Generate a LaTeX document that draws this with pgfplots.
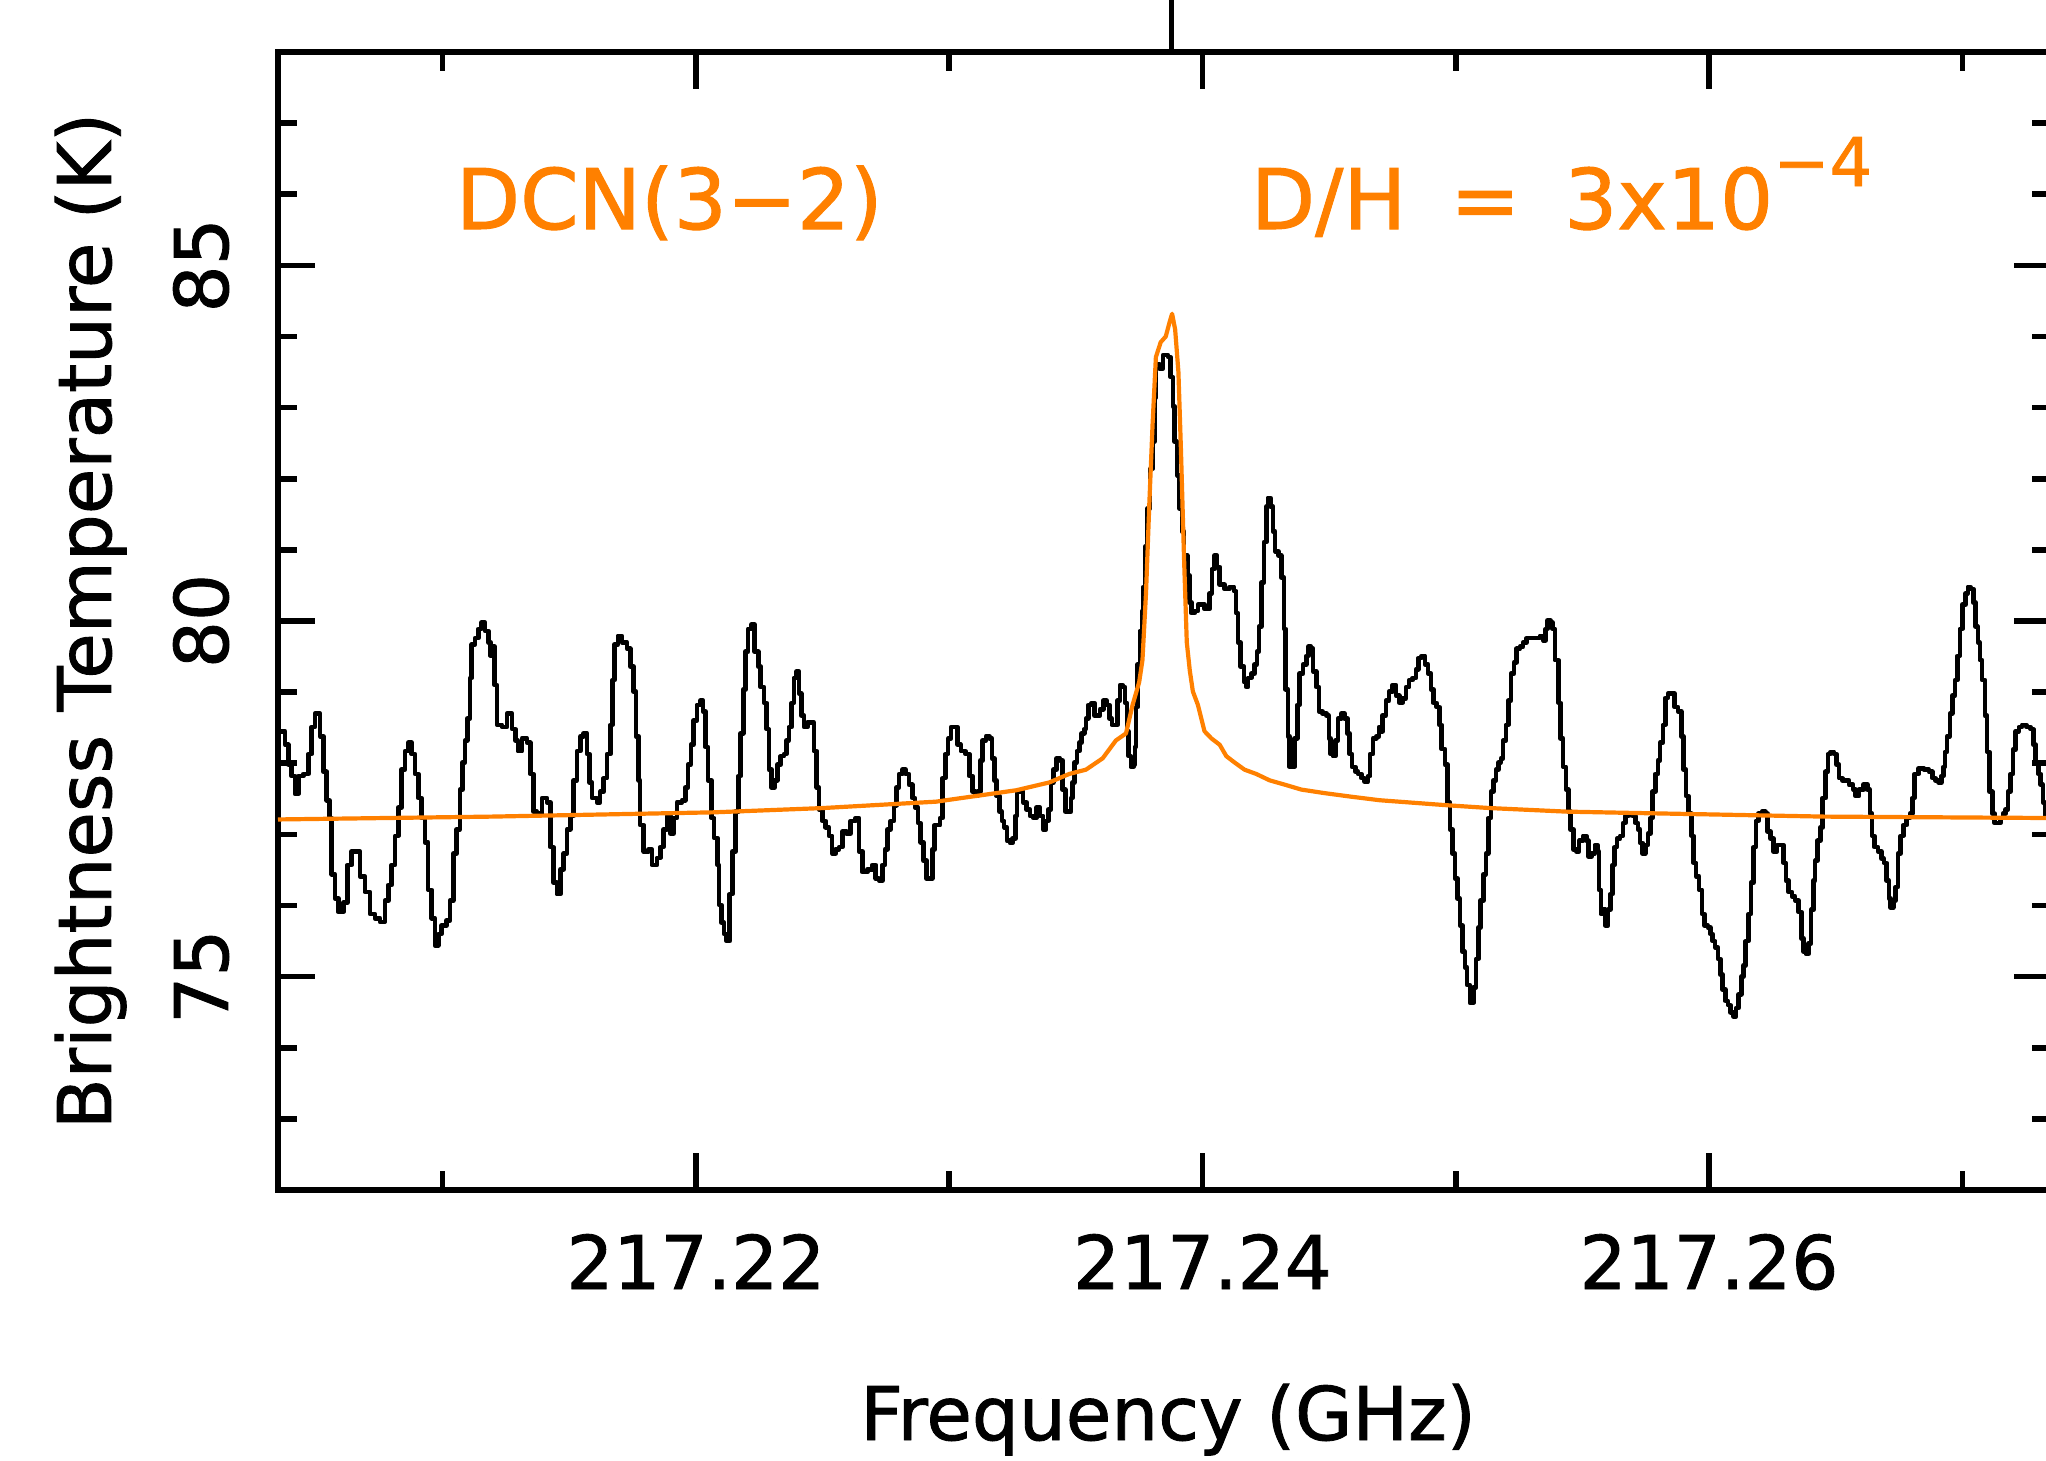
\documentclass[border=0pt]{standalone}
\usepackage{fontspec}
\setmainfont{DejaVu Sans}[FakeBold=1.2]
\usepackage{pgfplots}
\usepackage{pgfplotstable}
\pgfplotsset{compat=1.18}
\definecolor{modelorange}{RGB}{255,128,0}

% x: offset from 217.2 GHz in MHz, y: brightness temperature (K)
\pgfplotstableread{
x T
3.50 78.45
3.78 78.26
3.91 77.98
4.04 77.82
4.17 77.57
4.30 77.82
4.50 77.85
4.70 78.13
4.83 78.51
4.96 78.70
5.16 78.38
5.29 77.88
5.42 77.48
5.53 77.23
5.62 76.44
5.75 76.10
5.88 75.91
6.08 76.04
6.24 76.57
6.41 76.76
6.61 76.76
6.74 76.41
6.93 76.19
7.13 75.88
7.33 75.82
7.53 75.77
7.72 76.07
7.86 76.29
7.99 76.57
8.12 76.98
8.25 77.38
8.38 77.91
8.51 78.17
8.65 78.29
8.78 78.13
8.91 77.85
9.04 77.51
9.17 77.23
9.30 76.89
9.43 76.22
9.57 75.82
9.70 75.44
9.83 75.60
9.96 75.72
10.16 75.79
10.29 76.07
10.42 76.73
10.55 77.07
10.68 77.63
10.79 78.01
10.88 78.32
10.97 78.63
11.08 79.20
11.15 79.67
11.28 79.76
11.41 79.89
11.54 79.98
11.67 79.86
11.80 79.70
11.90 79.51
11.95 79.64
12.05 79.10
12.15 78.54
12.34 78.51
12.54 78.70
12.74 78.48
12.87 78.32
12.97 78.17
13.13 78.35
13.33 78.29
13.46 77.85
13.59 77.32
13.72 77.29
13.92 77.51
14.12 77.45
14.25 76.82
14.38 76.32
14.51 76.16
14.65 76.51
14.78 76.73
14.91 77.07
15.04 77.26
15.17 77.76
15.30 78.17
15.44 78.38
15.57 78.42
15.70 78.13
15.79 77.73
15.90 77.51
16.09 77.45
16.22 77.60
16.36 77.79
16.49 78.13
16.62 78.54
16.71 79.17
16.79 79.67
16.92 79.79
17.08 79.70
17.28 79.61
17.41 79.36
17.54 79.01
17.63 78.38
17.74 77.76
17.80 77.13
17.94 76.76
18.13 76.79
18.26 76.57
18.46 76.67
18.59 76.82
18.72 77.07
18.86 77.26
18.99 77.01
19.12 77.23
19.25 77.45
19.45 77.48
19.58 77.66
19.69 77.98
19.80 78.26
19.91 78.60
20.04 78.82
20.17 78.88
20.28 78.73
20.37 78.23
20.47 77.76
20.61 77.23
20.72 76.95
20.85 76.57
20.91 76.01
21.00 75.76
21.11 75.60
21.21 75.50
21.33 76.16
21.44 76.76
21.57 77.32
21.67 77.82
21.77 78.42
21.87 79.04
21.96 79.57
22.06 79.89
22.19 79.95
22.32 79.57
22.46 79.36
22.56 79.07
22.69 78.85
22.79 78.48
22.88 77.91
22.99 77.66
23.11 77.76
23.21 77.98
23.35 78.10
23.48 78.13
23.58 78.32
23.67 78.51
23.78 78.85
23.87 79.20
23.98 79.29
24.07 78.98
24.16 78.67
24.27 78.51
24.40 78.57
24.56 78.57
24.66 78.17
24.77 77.66
24.86 77.35
24.99 77.19
25.12 77.10
25.25 76.98
25.38 76.73
25.52 76.79
25.65 76.82
25.78 77.04
25.95 77.01
26.11 77.19
26.31 77.23
26.44 76.76
26.57 76.47
26.77 76.51
26.96 76.57
27.10 76.38
27.23 76.35
27.36 76.57
27.46 76.79
27.56 77.07
27.69 77.19
27.82 77.41
27.92 77.66
28.02 77.85
28.15 77.91
28.28 77.85
28.41 77.70
28.54 77.51
28.65 77.38
28.77 77.16
28.87 76.89
28.98 76.63
29.11 76.38
29.24 76.38
29.33 76.79
29.42 77.13
29.54 77.13
29.64 77.23
29.74 77.79
29.85 78.13
29.96 78.35
30.07 78.51
30.20 78.51
30.33 78.26
30.46 78.17
30.64 78.13
30.79 77.82
30.92 77.60
31.03 77.54
31.12 77.60
31.23 78.04
31.32 78.32
31.45 78.38
31.58 78.35
31.69 78.07
31.78 77.76
31.87 77.54
31.98 77.32
32.08 77.19
32.17 77.10
32.28 76.91
32.40 76.88
32.50 76.94
32.61 77.26
32.67 77.60
32.83 77.60
32.92 77.45
33.06 77.35
33.19 77.26
33.32 77.23
33.45 77.38
33.58 77.26
33.71 77.07
33.82 77.19
33.91 77.35
34.02 77.73
34.11 77.91
34.24 78.07
34.37 78.04
34.48 77.63
34.58 77.32
34.70 77.32
34.81 77.51
34.87 77.73
34.94 78.01
35.04 78.17
35.14 78.29
35.23 78.42
35.33 78.48
35.40 78.63
35.49 78.82
35.62 78.85
35.73 78.67
35.86 78.67
35.95 78.76
36.08 78.88
36.21 78.82
36.32 78.63
36.42 78.54
36.56 78.54
36.65 78.88
36.74 79.10
36.85 79.07
36.94 78.85
37.02 78.45
37.08 78.10
37.17 77.95
37.28 77.98
37.33 78.23
37.37 78.79
37.44 79.39
37.53 79.86
37.61 80.14
37.66 80.48
37.74 81.05
37.83 81.58
37.92 82.14
38.03 82.52
38.10 83.14
38.16 83.61
38.31 83.55
38.44 83.74
38.64 83.71
38.74 83.43
38.83 83.02
38.90 82.52
39.00 82.05
39.10 81.58
39.19 81.26
39.27 80.92
39.40 80.64
39.49 80.26
39.56 80.11
39.69 80.14
39.82 80.23
39.95 80.23
40.08 80.17
40.22 80.17
40.28 80.39
40.37 80.73
40.48 80.92
40.58 80.76
40.68 80.51
40.87 80.45
41.07 80.48
41.24 80.42
41.33 80.11
41.40 79.70
41.50 79.36
41.64 79.14
41.73 79.07
41.79 79.20
41.93 79.26
42.06 79.39
42.15 79.57
42.23 79.92
42.32 80.54
42.43 81.11
42.52 81.61
42.58 81.73
42.69 81.61
42.78 81.26
42.87 80.98
43.00 80.92
43.11 80.61
43.22 79.89
43.28 79.04
43.37 78.38
43.44 77.95
43.54 77.95
43.64 78.35
43.74 78.82
43.83 79.26
43.97 79.39
44.10 79.51
44.19 79.64
44.29 79.61
44.37 79.29
44.49 79.07
44.60 78.73
44.73 78.70
44.89 78.67
44.99 78.35
45.06 78.13
45.15 78.10
45.25 78.32
45.35 78.63
45.48 78.70
45.61 78.63
45.72 78.42
45.81 78.13
45.90 77.95
46.03 77.88
46.14 77.85
46.27 77.79
46.40 77.74
46.53 77.82
46.62 78.13
46.73 78.35
46.86 78.38
46.97 78.51
47.01 78.45
47.11 78.67
47.24 78.88
47.37 79.01
47.51 79.10
47.64 78.95
47.77 78.85
47.90 78.91
48.03 79.07
48.16 79.17
48.30 79.20
48.43 79.32
48.52 79.48
48.65 79.51
48.78 79.39
48.91 79.26
49.02 79.04
49.11 78.85
49.24 78.79
49.35 78.54
49.44 78.20
49.57 77.98
49.68 77.45
49.77 77.07
49.87 76.73
49.97 76.38
50.07 76.10
50.16 75.72
50.26 75.35
50.36 75.13
50.45 74.88
50.56 74.63
50.69 74.85
50.80 75.25
50.89 75.69
50.98 76.07
51.09 76.44
51.19 76.73
51.28 77.23
51.39 77.60
51.48 77.76
51.59 77.91
51.68 78.01
51.78 78.07
51.87 78.32
51.98 78.54
52.07 78.88
52.18 79.26
52.30 79.42
52.40 79.61
52.53 79.64
52.66 79.70
52.80 79.76
52.99 79.76
53.12 79.76
53.32 79.79
53.45 79.73
53.55 79.89
53.62 80.01
53.74 79.98
53.82 79.89
53.91 79.45
54.05 78.85
54.14 78.35
54.24 77.95
54.35 77.63
54.44 77.32
54.53 77.07
54.64 76.79
54.77 76.76
54.87 76.91
55.03 76.98
55.16 76.91
55.23 76.69
55.36 76.73
55.49 76.85
55.59 76.76
55.65 76.22
55.73 75.88
55.84 75.94
55.90 75.72
56.01 75.94
56.10 76.16
56.19 76.57
56.27 76.82
56.36 76.94
56.49 76.98
56.60 77.16
56.69 77.26
56.82 77.27
56.98 77.26
57.09 77.16
57.19 77.07
57.28 76.88
57.38 76.73
57.48 76.85
57.59 77.01
57.68 77.23
57.77 77.60
57.88 77.85
57.98 78.04
58.07 78.29
58.18 78.54
58.27 78.92
58.38 78.98
58.51 78.98
58.64 78.79
58.77 78.73
58.90 78.38
58.99 77.91
59.09 77.54
59.19 77.29
59.30 76.98
59.39 76.60
59.49 76.41
59.61 76.22
59.72 75.88
59.82 75.72
59.95 75.69
60.05 75.60
60.14 75.50
60.24 75.41
60.35 75.25
60.44 75.03
60.53 74.82
60.64 74.66
60.74 74.60
60.84 74.50
60.97 74.44
61.07 74.56
61.17 74.75
61.27 75.00
61.36 75.16
61.45 75.50
61.56 75.88
61.65 76.32
61.76 76.82
61.85 77.19
61.95 77.29
62.09 77.32
62.22 77.29
62.31 77.04
62.42 76.94
62.55 76.76
62.68 76.85
62.81 76.85
62.94 76.60
63.03 76.35
63.14 76.19
63.27 76.13
63.40 76.07
63.53 75.91
63.64 75.54
63.73 75.35
63.82 75.32
63.93 75.47
64.03 75.94
64.13 76.35
64.19 76.63
64.28 76.91
64.39 77.10
64.48 77.51
64.60 77.88
64.69 78.13
64.80 78.16
64.93 78.13
65.03 77.98
65.13 77.79
65.26 77.76
65.39 77.76
65.52 77.70
65.69 77.63
65.78 77.54
65.92 77.63
66.09 77.70
66.25 77.63
66.35 77.29
66.44 76.98
66.53 76.82
66.67 76.76
66.80 76.66
66.90 76.60
67.01 76.35
67.10 76.10
67.17 75.97
67.27 76.07
67.36 76.26
67.46 76.73
67.56 76.98
67.67 77.13
67.80 77.23
67.93 77.29
68.02 77.51
68.11 77.85
68.28 77.93
68.48 77.91
68.68 77.88
68.81 77.79
68.94 77.76
69.07 77.73
69.17 77.82
69.25 77.95
69.31 78.16
69.40 78.38
69.51 78.70
69.60 78.95
69.71 79.17
69.80 79.51
69.90 79.89
70.00 80.23
70.13 80.39
70.22 80.48
70.32 80.45
70.43 80.26
70.52 79.92
70.61 79.70
70.69 79.45
70.78 79.17
70.89 78.67
70.98 78.16
71.07 77.60
71.18 77.29
71.27 77.16
71.40 77.16
71.51 77.23
71.60 77.29
71.71 77.35
71.80 77.60
71.90 77.85
72.00 78.19
72.10 78.45
72.23 78.51
72.36 78.54
72.53 78.51
72.69 78.48
72.80 78.26
72.89 78.01
73.00 77.85
73.09 77.70
73.18 77.45
73.26 77.23
73.50 77.23
}\spectrum

% model line, D/H = 3e-4
\pgfplotstableread{
x T
3.50 77.21
11.95 77.25
20.70 77.31
25.00 77.37
29.48 77.46
32.64 77.62
33.95 77.73
34.74 77.85
35.40 77.91
36.06 78.07
36.58 78.32
36.98 78.42
37.24 78.82
37.50 79.14
37.63 79.45
37.77 80.39
37.90 81.64
38.03 82.77
38.16 83.71
38.35 83.92
38.55 84.00
38.70 84.20
38.80 84.32
38.92 84.10
39.05 83.50
39.15 82.40
39.27 80.90
39.38 79.70
39.50 79.30
39.62 79.01
39.82 78.82
40.08 78.45
40.35 78.35
40.68 78.26
40.94 78.10
41.27 78.01
41.66 77.91
42.12 77.85
42.65 77.76
43.24 77.70
43.90 77.63
44.82 77.58
45.87 77.53
47.00 77.48
49.64 77.41
51.35 77.37
54.37 77.32
55.77 77.31
64.53 77.25
73.50 77.23
}\model

\begin{document}
\begin{tikzpicture}
\begin{axis}[
  scale only axis,
  width=443.25pt,
  height=284.5pt,
  xmin=3.5, xmax=73.5,
  ymin=72, ymax=88,
  xtick={20,40,60},
  xticklabels={217.22,217.24,217.26},
  minor xtick={10,30,50,70},
  ytick={75,80,85},
  yticklabels={75,80,85},
  minor ytick={73,74,76,77,78,79,81,82,83,84,86,87},
  tick align=inside,
  tick pos=both,
  major tick length=9.25pt,
  minor tick length=4.75pt,
  axis line style={line width=1.4pt},
  tick style={black, line width=1.4pt},
  xticklabel style={font=\fontsize{18.5}{22}\selectfont, anchor=base, inner sep=0pt},
  xticklabel shift=24.75pt,
  yticklabel style={font=\fontsize{18.5}{22}\selectfont, rotate=90, anchor=base, inner sep=0pt},
  yticklabel shift=12.5pt,
  clip=false,
]
\addplot[black, line width=1.15pt, const plot, line join=round, line cap=round] table[x=x, y=T] {\spectrum};
\addplot[modelorange, line width=1.05pt, line join=round] table[x=x, y=T] {\model};
% line marker above the frame
\addplot[black, line width=1.1pt] coordinates {(38.78,88) (38.78,90)};

\node[anchor=base west, inner sep=0pt, text=modelorange, font=\fontsize{20.9}{24}\selectfont]
  at ([xshift=44.25pt, yshift=240.25pt]rel axis cs:0,0) {DCN(3−2)};
\node[anchor=base west, inner sep=0pt, text=modelorange, font=\fontsize{20.9}{24}\selectfont]
  at ([xshift=243pt, yshift=240.25pt]rel axis cs:0,0)
  {D/H\hspace{11pt}=\hspace{11pt}3x10\raisebox{10.75pt}{\fontsize{16.8}{18}\selectfont −4}};

\node[anchor=base, inner sep=0pt, font=\fontsize{18.5}{22}\selectfont]
  at ([xshift=0.9pt, yshift=-62.5pt]rel axis cs:0.5,0) {Frequency (GHz)};
\node[rotate=90, anchor=base, inner sep=0pt, font=\fontsize{18.5}{22}\selectfont]
  at ([xshift=-41.75pt]rel axis cs:0,0.5) {Brightness Temperature (K)};
\end{axis}
\pgfresetboundingbox
\useasboundingbox (-69.5pt,-67.5pt) rectangle (442pt,297.5pt);
\end{tikzpicture}
\end{document}
